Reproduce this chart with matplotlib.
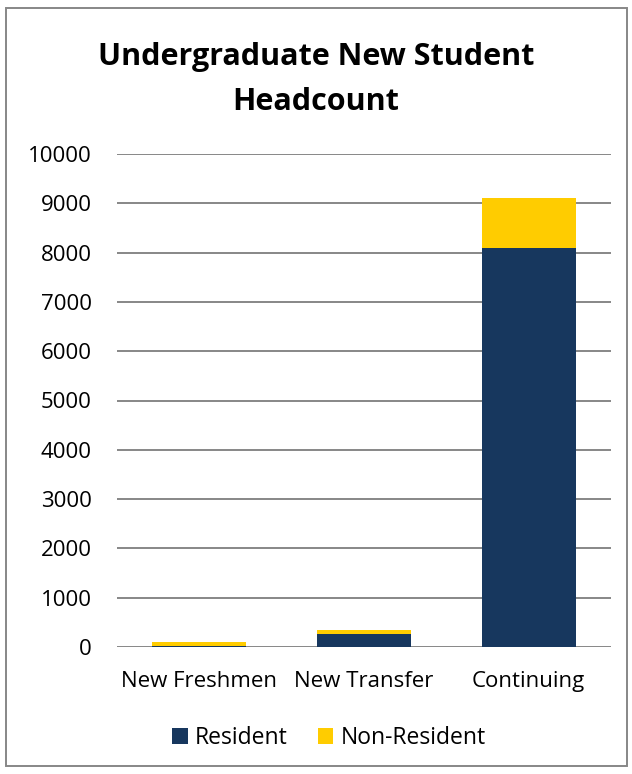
import matplotlib
matplotlib.use("Agg")
import matplotlib.pyplot as plt
from matplotlib.patches import Rectangle
import numpy as np

categories = ["New Freshmen", "New Transfer", "Continuing"]
resident = [30, 260, 8090]
non_resident = [70, 80, 1010]
yticks = [0, 1000, 2000, 3000, 4000, 5000, 6000, 7000, 8000, 9000, 10000]

plt.rcParams['font.family'] = ['Open Sans', 'DejaVu Sans']
FS = 16

fig = plt.figure(figsize=(6.32, 7.74), dpi=100)
fig.patches.append(Rectangle((6/632, 1-766/774), 621/632, 758/774, transform=fig.transFigure,
                             fill=False, edgecolor='#878787', linewidth=1.4))

ax = fig.add_axes([117/632, 1-647/774, 494/632, 493/774])
x = np.arange(len(categories))
w = 0.57
ax.bar(x, resident, w, color='#17375E', label='Resident', zorder=3)
ax.bar(x, non_resident, w, bottom=resident, color='#FFCC00', label='Non-Resident', zorder=3)
ax.set_xlim(-0.5, 2.5)
ax.set_ylim(0, 10000)
ax.set_yticks(yticks)
ax.set_yticklabels([str(t) for t in yticks], fontsize=FS)
ax.set_xticks(x)
ax.set_xticklabels(categories, fontsize=FS)
ax.tick_params(axis='y', length=0, pad=18)
ax.tick_params(axis='x', length=0, pad=17)
for s in ax.spines.values():
    s.set_visible(False)
ax.yaxis.grid(True, color='#878787', linewidth=1.4, zorder=0)
ax.set_axisbelow(True)

fig.text(0.5, 1-65/774, "Undergraduate New Student", ha='center', va='baseline',
         fontsize=22, fontweight='bold')
fig.text(0.5, 1-110/774, "Headcount", ha='center', va='baseline',
         fontsize=22, fontweight='bold')

fig.legend(loc='center', bbox_to_anchor=(329/632, 1-738/774), ncol=2, frameon=False,
           fontsize=16.5, handlelength=0.66, handleheight=0.66, columnspacing=1.3,
           handletextpad=0.33)

fig.savefig("out.png", dpi=100)
